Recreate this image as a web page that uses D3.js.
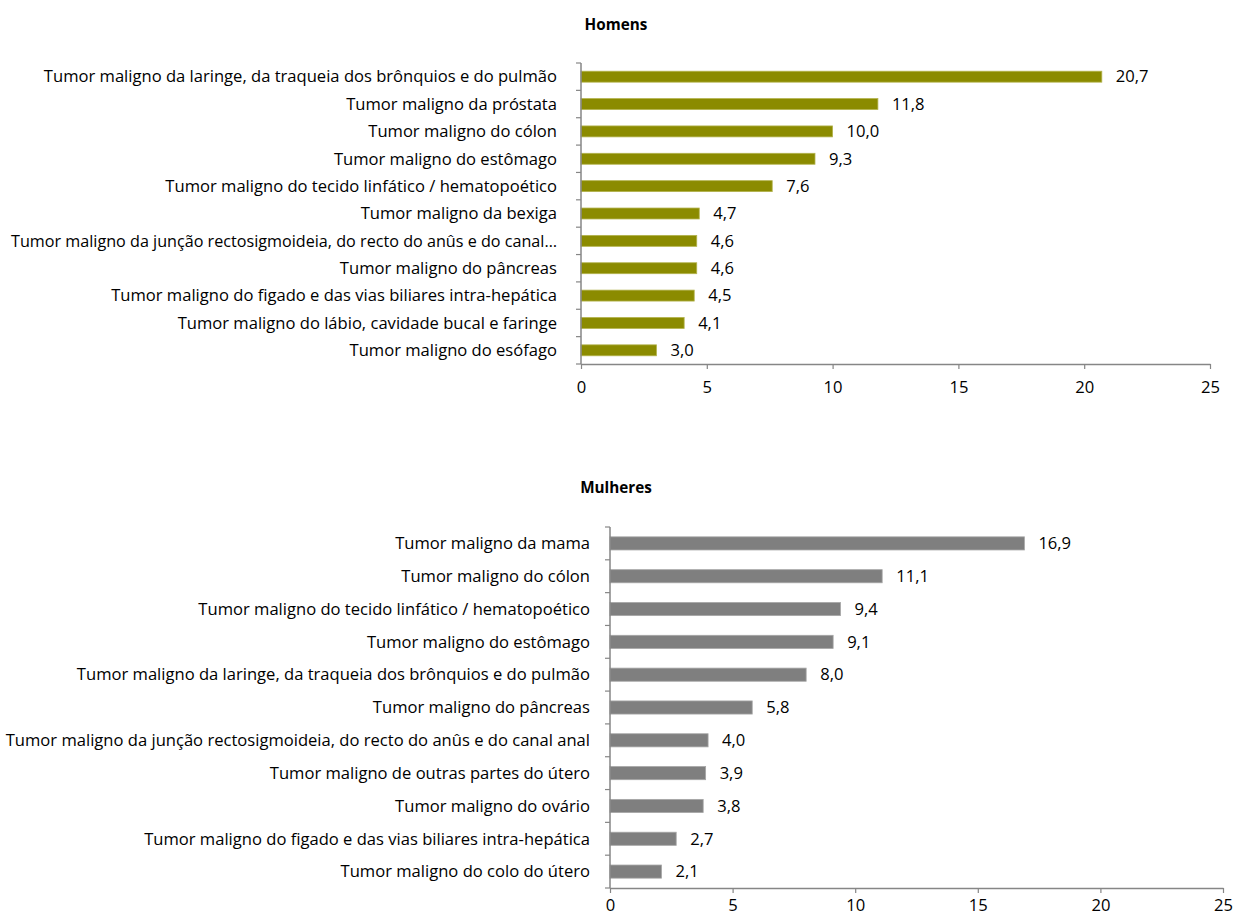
<!DOCTYPE html>
<html><head><meta charset="utf-8">
<script src="https://cdn.jsdelivr.net/npm/d3@7"></script>
<style>
body{margin:0;background:#fff;}
text{font-family:"Open Sans","Noto Sans",sans-serif;fill:#000;}
</style></head>
<body><svg id="c" width="1239" height="918"></svg>
<script>
const menCategories = [
 "Tumor maligno da laringe, da traqueia dos brônquios e do pulmão",
 "Tumor maligno da próstata",
 "Tumor maligno do cólon",
 "Tumor maligno do estômago",
 "Tumor maligno do tecido linfático / hematopoético",
 "Tumor maligno da bexiga",
 "Tumor maligno da junção rectosigmoideia, do recto do anûs e do canal…",
 "Tumor maligno do pâncreas",
 "Tumor maligno do figado e das vias biliares intra-hepática",
 "Tumor maligno do lábio, cavidade bucal e faringe",
 "Tumor maligno do esófago"
];
const menValues = [20.7, 11.8, 10.0, 9.3, 7.6, 4.7, 4.6, 4.6, 4.5, 4.1, 3.0];
const womenCategories = [
 "Tumor maligno da mama",
 "Tumor maligno do cólon",
 "Tumor maligno do tecido linfático / hematopoético",
 "Tumor maligno do estômago",
 "Tumor maligno da laringe, da traqueia dos brônquios e do pulmão",
 "Tumor maligno do pâncreas",
 "Tumor maligno da junção rectosigmoideia, do recto do anûs e do canal anal",
 "Tumor maligno de outras partes do útero",
 "Tumor maligno do ovário",
 "Tumor maligno do figado e das vias biliares intra-hepática",
 "Tumor maligno do colo do útero"
];
const womenValues = [16.9, 11.1, 9.4, 9.1, 8.0, 5.8, 4.0, 3.9, 3.8, 2.7, 2.1];
const xTicks = [0, 5, 10, 15, 20, 25];
const titles = ["Homens", "Mulheres"];

const svg = d3.select("#c");
const fmt = v => d3.format(".1f")(v).replace(".", ",");

// calibrate font size so the longest label matches reference width (~585px)
const probe = svg.append("text").style("font-size","15px").text(womenCategories[6]);
const w15 = probe.node().getComputedTextLength();
probe.remove();
const fs = 15 * 585 / w15;

function drawChart(cfg){
  const g = svg.append("g");
  const x = d3.scaleLinear().domain([0,25]).range([cfg.x0, cfg.x1]);
  const y = d3.scaleBand().domain(cfg.cats).range([cfg.y0, cfg.y1]).paddingInner(0.6).paddingOuter(0.3);
  const yb = d3.scaleBand().domain(cfg.cats).range([cfg.y0, cfg.y1]);
  g.append("text").attr("x", 616).attr("y", cfg.titleY).attr("text-anchor","middle")
    .style("font-weight","bold").style("font-size", (fs*0.92)+"px").text(cfg.title);
  g.selectAll("rect.bar").data(cfg.vals).join("rect").attr("class","bar")
    .attr("x", x(0)).attr("y", (d,i)=>y(cfg.cats[i]))
    .attr("width", d=>x(d)-x(0)).attr("height", y.bandwidth())
    .attr("fill", cfg.color).attr("stroke", cfg.edge).attr("stroke-width", 0.8);
  g.selectAll("text.val").data(cfg.vals).join("text").attr("class","val")
    .attr("x", d=>x(d)+14).attr("y", (d,i)=>y(cfg.cats[i])+y.bandwidth()/2)
    .attr("dy","0.35em").style("font-size", fs+"px").text(fmt);
  g.selectAll("text.cat").data(cfg.cats).join("text").attr("class","cat")
    .attr("x", cfg.labelX).attr("y", d=>yb(d)+yb.bandwidth()/2)
    .attr("dy","0.35em").attr("text-anchor","end").style("font-size", fs+"px").text(d=>d)
    .each(function(){
      const maxW = cfg.labelX - cfg.minLeft;
      if (this.getComputedTextLength() > maxW) {
        d3.select(this).attr("textLength", maxW).attr("lengthAdjust","spacingAndGlyphs");
      }
    });
  // y axis line + category ticks
  const ax = "#868686";
  g.append("line").attr("x1",x(0)).attr("x2",x(0)).attr("y1",cfg.y0).attr("y2",cfg.y1).attr("stroke",ax).attr("stroke-width",1.5);
  const edges = cfg.cats.map(c=>yb(c)).concat([cfg.y1]);
  g.selectAll("line.yt").data(edges).join("line").attr("class","yt")
    .attr("x1",x(0)-5).attr("x2",x(0)).attr("y1",d=>d).attr("y2",d=>d).attr("stroke",ax).attr("stroke-width",1.2);
  // x axis
  const xa = g.append("g").attr("transform",`translate(0,${cfg.y1})`)
    .call(d3.axisBottom(x).tickValues(xTicks).tickSize(5).tickSizeOuter(0).tickPadding(cfg.tickPad).tickFormat(d=>d));
  xa.select(".domain").attr("stroke",ax).attr("stroke-width",1.5);
  xa.selectAll(".tick line").attr("stroke",ax).attr("stroke-width",1.2);
  xa.selectAll(".tick text").style("font-size", fs+"px").attr("font-family",null).attr("fill","#000");
}

drawChart({cats:menCategories, vals:menValues, title:titles[0], titleY:30, tickPad:12,
  x0:581, x1:1210, y0:63, y1:364, labelX:557, minLeft:11, color:"#8b8b00", edge:"#b3b34d"});
drawChart({cats:womenCategories, vals:womenValues, title:titles[1], titleY:493, tickPad:6,
  x0:610, x1:1223, y0:527, y1:888, labelX:590, minLeft:4, color:"#7f7f7f", edge:"#a6a6a6"});
</script>
</body></html>
